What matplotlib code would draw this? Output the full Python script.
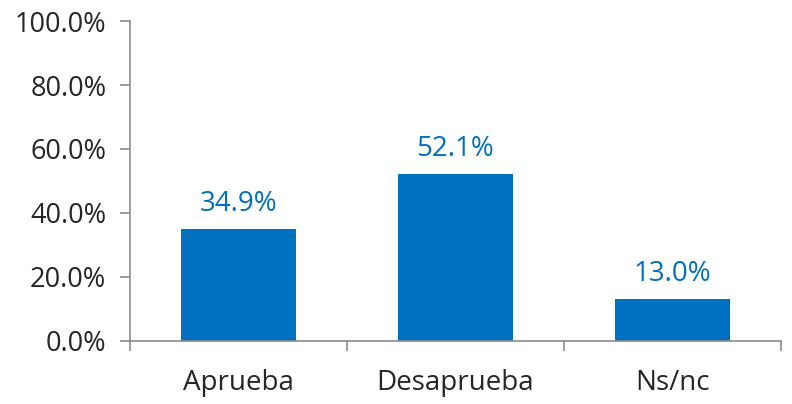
import matplotlib.pyplot as plt
import numpy as np
from matplotlib.ticker import FuncFormatter, FixedLocator

categories = ['Aprueba', 'Desaprueba', 'Ns/nc']
values = [34.9, 52.1, 13.0]

bar_color = '#0070C0'
axis_color = '#8C8C8C'
text_color = '#262626'

plt.rcParams['font.family'] = ['Open Sans', 'DejaVu Sans']

fig = plt.figure(figsize=(7.92, 4.04), dpi=100)
ax = fig.add_axes([0.164, 0.156, 0.822, 0.792])

x = np.arange(len(categories))
bars = ax.bar(x, values, width=0.53, color=bar_color)

# value labels above bars
for bar, val in zip(bars, values):
    ax.annotate(f'{val:.1f}%', (bar.get_x() + bar.get_width() / 2, bar.get_height()),
                xytext=(0, 8), textcoords='offset points',
                ha='center', va='bottom', color=bar_color, fontsize=20)

ax.set_xlim(-0.5, len(categories) - 0.5)
ax.set_ylim(0, 100)
ax.set_yticks(np.arange(0, 101, 20))
ax.yaxis.set_major_formatter(FuncFormatter(lambda v, p: f'{v:.1f}%'))

# tick marks at category boundaries, labels centered under bars
ax.xaxis.set_major_locator(FixedLocator(np.arange(-0.5, len(categories), 1.0)))
ax.xaxis.set_major_formatter(FuncFormatter(lambda v, p: ''))
ax.xaxis.set_minor_locator(FixedLocator(x))
ax.set_xticklabels(categories, minor=True)
ax.tick_params(axis='x', which='minor', length=0, pad=20, labelsize=20, labelcolor=text_color)
ax.tick_params(axis='x', which='major', length=7, width=1.2, color=axis_color)
ax.tick_params(axis='y', length=7, width=1.2, color=axis_color, labelsize=19.5,
               labelcolor=text_color, pad=10)

for side in ['top', 'right']:
    ax.spines[side].set_visible(False)
for side in ['left', 'bottom']:
    ax.spines[side].set_color(axis_color)
    ax.spines[side].set_linewidth(1.2)

plt.savefig('out.png', dpi=100)
